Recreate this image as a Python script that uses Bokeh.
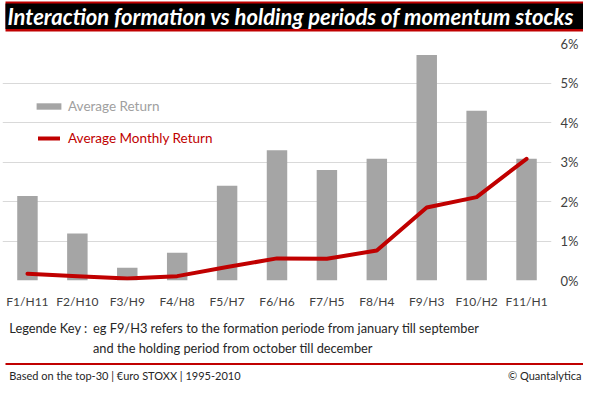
from bokeh.plotting import figure
from bokeh.layouts import column
from bokeh.models import (Range1d, FactorRange, NumeralTickFormatter, Legend, LegendItem,
                          Label, BoxAnnotation, FixedTicker)
from bokeh.embed import file_html
from bokeh.resources import INLINE

categories = ["F1/H11", "F2/H10", "F3/H9", "F4/H8", "F5/H7", "F6/H6",
              "F7/H5", "F8/H4", "F9/H3", "F10/H2", "F11/H1"]
avg_return = [0.0214, 0.0119, 0.0032, 0.0070, 0.0240, 0.0330,
              0.0280, 0.0308, 0.0571, 0.0430, 0.0308]
avg_monthly_return = [0.0017, 0.0011, 0.0005, 0.0011, 0.0034, 0.0056,
                      0.0055, 0.0076, 0.0185, 0.0211, 0.0308]
y_ticks = [0.0, 0.01, 0.02, 0.03, 0.04, 0.05, 0.06]

title_text = "Interaction formation vs holding periods of momentum stocks"
key_label = "Legende Key :"
key_line1 = "eg F9/H3 refers to the formation periode from january till september"
key_line2 = "and the holding period from october till december"
footer_left = "Based on the top-30 | \u20acuro STOXX | 1995-2010"
footer_right = "\u00a9 Quantalytica"

RED = "#C00000"
GRAY = "#A5A5A5"
TXT = "#262626"
FONT = "Lato"
W = 583


def blank(h):
    f = figure(width=W, height=h, frame_width=W, frame_height=h,
               x_range=Range1d(0, W), y_range=Range1d(0, h),
               x_axis_type=None, y_axis_type=None, toolbar_location=None,
               output_backend="svg", min_border=0, title=None)
    f.outline_line_color = None
    f.xgrid.visible = False
    f.ygrid.visible = False
    f.border_fill_color = "white"
    f.background_fill_color = "white"
    return f


def box(f, h, l, r, t, b, color):
    f.add_layout(BoxAnnotation(left=l, right=r, top=h - t, bottom=h - b,
                               fill_color=color, fill_alpha=1, line_color=None))


def lab(f, h, x, y, text, size, color=TXT, style="normal", align="left"):
    f.add_layout(Label(x=x, y=h - y, text=text, text_font=FONT, text_font_size=size,
                       text_color=color, text_font_style=style, text_align=align,
                       text_baseline="middle"))


# ---- title strip ----
HT = 33
top = blank(HT)
box(top, HT, 3, 581, 1, 31, RED)
box(top, HT, 3, 581, 3, 28.6, "black")
lab(top, HT, 5, 15.8, title_text, "22px", color="white", style="bold italic")

# ---- main chart ----
p = figure(width=W, height=279, frame_width=549, frame_height=237,
           x_range=FactorRange(*categories, range_padding=0),
           y_range=Range1d(0, 0.06),
           y_axis_location="right", toolbar_location=None, output_backend="svg",
           min_border_left=2, min_border_right=32, min_border_top=10, min_border_bottom=32,
           title=None)
p.outline_line_color = None
p.background_fill_color = "white"
p.border_fill_color = "white"

bars = p.vbar(x=categories, top=avg_return, width=0.41, fill_color=GRAY, line_color=None)
line = p.line(x=categories, y=avg_monthly_return, line_color=RED, line_width=4,
              line_join="round", line_cap="round")

p.xgrid.visible = False
p.ygrid.ticker = FixedTicker(ticks=y_ticks)
p.ygrid.grid_line_color = "#D9D9D9"
p.ygrid.grid_line_width = 1

ya = p.yaxis[0]
ya.ticker = FixedTicker(ticks=y_ticks)
ya.formatter = NumeralTickFormatter(format="0%")
ya.axis_line_color = None
ya.major_tick_line_color = None
ya.minor_tick_line_color = None
ya.major_tick_out = 0
ya.major_tick_in = 0
ya.major_label_standoff = 9
ya.major_label_text_font = FONT
ya.major_label_text_font_size = "13px"
ya.major_label_text_color = "#404040"

xa = p.xaxis[0]
xa.axis_line_color = None
xa.major_tick_line_color = None
xa.major_tick_out = 0
xa.major_tick_in = 0
xa.major_label_standoff = 13
xa.major_label_text_font = FONT
xa.major_label_text_font_size = "12px"
xa.major_label_text_color = "#404040"

leg1 = Legend(items=[LegendItem(label="Average Return", renderers=[bars])],
              location=(31, 166), padding=0, margin=0, spacing=0,
              glyph_width=31, glyph_height=8, label_standoff=4, label_height=16,
              label_text_font=FONT, label_text_font_size="13.5px", label_text_color="#A0A0A0",
              border_line_color=None, background_fill_alpha=0)
leg2 = Legend(items=[LegendItem(label="Average Monthly Return", renderers=[line])],
              location=(36, 134), padding=0, margin=0, spacing=0,
              glyph_width=22, glyph_height=8, label_standoff=8, label_height=16,
              label_text_font=FONT, label_text_font_size="13.5px", label_text_color=RED,
              border_line_color=None, background_fill_alpha=0)
p.add_layout(leg1)
p.add_layout(leg2)

# ---- footer ----
HF = 71
foot = blank(HF)
lab(foot, HF, 6.8, 15.4, key_label, "12.8px")
lab(foot, HF, 90.5, 15.4, key_line1, "12.8px")
lab(foot, HF, 90.5, 35.2, key_line2, "12.8px")
box(foot, HF, 3, 581, 50.6, 52.4, RED)
lab(foot, HF, 6.8, 62.5, footer_left, "11px")
lab(foot, HF, 579, 62.5, footer_right, "11px", align="right")

layout = column(top, p, foot, spacing=0)
open("out.html", "w").write(file_html(layout, INLINE))
